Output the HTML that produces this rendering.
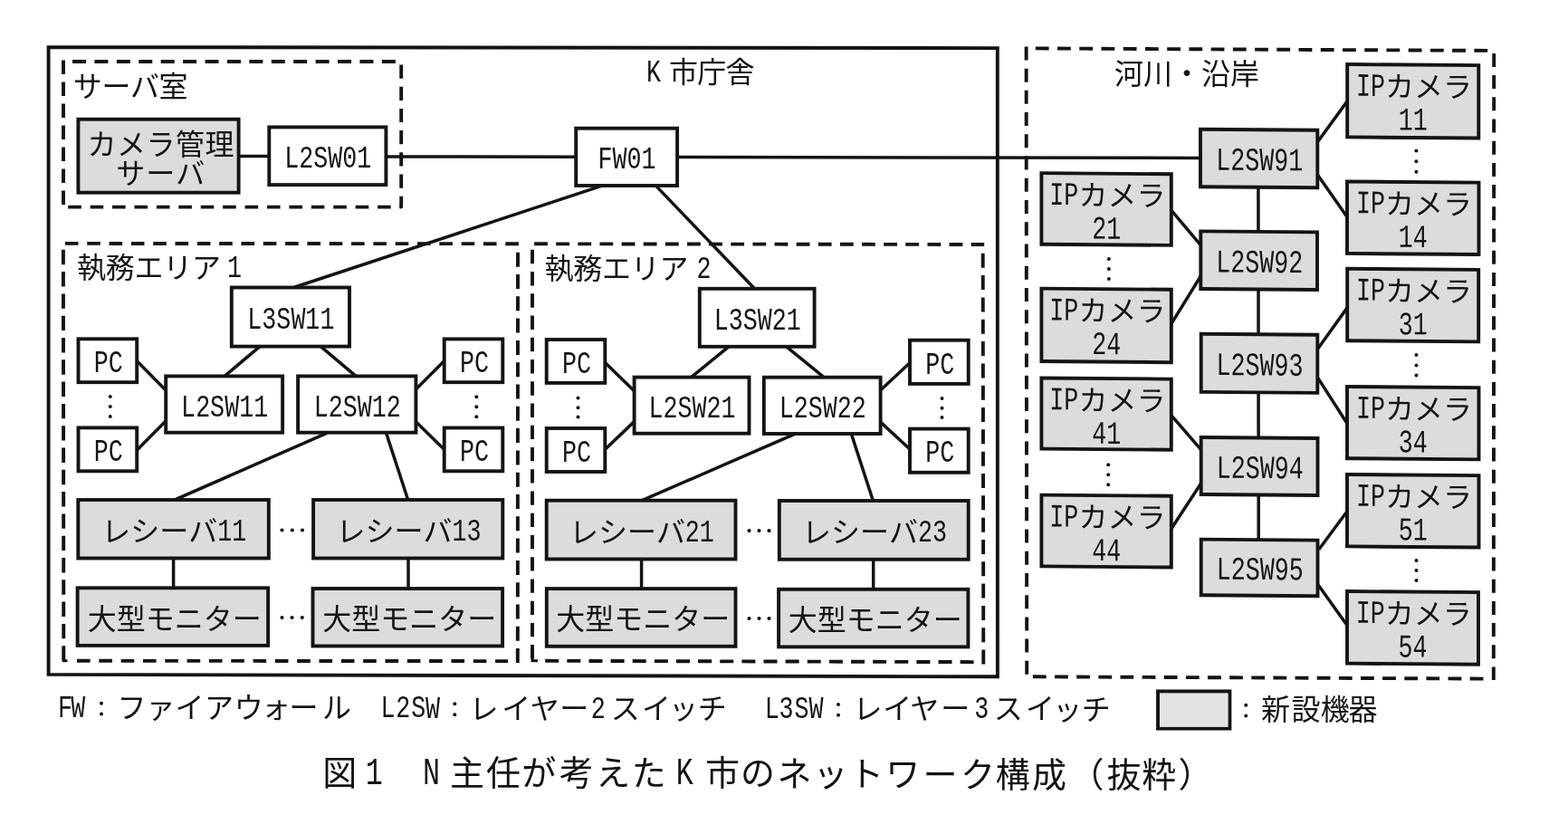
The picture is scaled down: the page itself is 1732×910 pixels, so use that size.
<!DOCTYPE html>
<html lang="ja">
<head>
<meta charset="utf-8">
<title>図1 N主任が考えたK市のネットワーク構成(抜粋)</title>
<style>
html,body{margin:0;padding:0;background:#fff;}
body{width:1732px;height:910px;overflow:hidden;font-family:"Liberation Mono","Liberation Sans",sans-serif;}
svg{display:block;filter:blur(0.55px);}
svg rect,svg line,svg polygon{stroke:#141414;}
svg line{stroke-linecap:butt;fill:none;}
svg text{font-family:"Liberation Mono","Liberation Sans",monospace;fill:#141414;white-space:pre;}
svg text.j{font-family:"Liberation Sans","Noto Sans CJK JP",sans-serif;}
svg .d{fill:#141414;stroke:none;}
</style>
</head>
<body>
<svg width="1732" height="910" viewBox="0 0 1732 910">
<rect x="0" y="0" width="1732" height="910" style="fill:#fff;stroke:none"/>
<polygon points="53.6,52.1 1101.8,53.1 1101.9,747.3 53.6,744.9" fill="none" stroke-width="3.9"/>
<line x1="80" y1="68" x2="443.3" y2="68" stroke-width="3.9" stroke-dasharray="15 9.42" stroke-dashoffset="0"/>
<line x1="75.2" y1="228.6" x2="443.3" y2="228.6" stroke-width="3.9" stroke-dasharray="14.6 9.82" stroke-dashoffset="0"/>
<line x1="70" y1="66.5" x2="70" y2="228" stroke-width="3.9" stroke-dasharray="15.6 8.4" stroke-dashoffset="0"/>
<line x1="443.2" y1="71.5" x2="443.2" y2="229.8" stroke-width="3.9" stroke-dasharray="15.2 9" stroke-dashoffset="0"/>
<line x1="71.9" y1="268.9" x2="573.3" y2="269.2" stroke-width="3.9" stroke-dasharray="14.6 9.72" stroke-dashoffset="0"/>
<line x1="69.9" y1="275.8" x2="70.3" y2="731" stroke-width="3.9" stroke-dasharray="16.4 7.9" stroke-dashoffset="0"/>
<line x1="572" y1="278.7" x2="571.8" y2="732.4" stroke-width="3.9" stroke-dasharray="16 8.3" stroke-dashoffset="0"/>
<line x1="85" y1="729.8" x2="561" y2="730.1" stroke-width="3.9" stroke-dasharray="14.6 9.72" stroke-dashoffset="0"/>
<polyline points="70.3,716 70.3,729.8 74.5,729.8" fill="none" stroke="#141414" stroke-width="3"/>
<line x1="590.1" y1="269.3" x2="1087.2" y2="270" stroke-width="3.9" stroke-dasharray="14.8 9.33" stroke-dashoffset="0"/>
<line x1="588" y1="275.8" x2="588" y2="731" stroke-width="3.9" stroke-dasharray="15.4 8.84" stroke-dashoffset="0"/>
<line x1="1085.7" y1="279.8" x2="1086.3" y2="733.7" stroke-width="3.9" stroke-dasharray="16 8.32" stroke-dashoffset="0"/>
<line x1="602.2" y1="729.8" x2="1075.6" y2="731.1" stroke-width="3.9" stroke-dasharray="15 9.13" stroke-dashoffset="0"/>
<polyline points="588,716 588,729.8 594,729.8" fill="none" stroke="#141414" stroke-width="3"/>
<line x1="1143.8" y1="53.4" x2="1643.4" y2="55.9" stroke-width="3.9" stroke-dasharray="14.8 9.43" stroke-dashoffset="0"/>
<line x1="1133.6" y1="51.4" x2="1134.2" y2="744.7" stroke-width="3.9" stroke-dasharray="15 9.23" stroke-dashoffset="0"/>
<line x1="1650.2" y1="58.9" x2="1649.8" y2="751" stroke-width="3.9" stroke-dasharray="15 9.2" stroke-dashoffset="0"/>
<line x1="1140.9" y1="747.3" x2="1638.8" y2="749.6" stroke-width="3.9" stroke-dasharray="14.8 9.34" stroke-dashoffset="0"/>
<line x1="263.6" y1="172.5" x2="296.7" y2="172.5" stroke-width="3.5"/>
<line x1="427" y1="173" x2="636" y2="173.2" stroke-width="3.5"/>
<line x1="748" y1="173.5" x2="1326" y2="174.4" stroke-width="3.5"/>
<line x1="663.45" y1="205.56" x2="325.15" y2="317.24" stroke-width="3.5"/>
<line x1="724.42" y1="205.14" x2="834.18" y2="319.46" stroke-width="3.5"/>
<line x1="288.79" y1="381.06" x2="247.51" y2="415.94" stroke-width="3.5"/>
<line x1="352.51" y1="381.06" x2="393.69" y2="415.94" stroke-width="3.5"/>
<line x1="150.09" y1="397.46" x2="184.61" y2="432.44" stroke-width="3.5"/>
<line x1="150.09" y1="498.33" x2="184.61" y2="463.47" stroke-width="3.5"/>
<line x1="457.58" y1="431.72" x2="491.82" y2="397.48" stroke-width="3.5"/>
<line x1="457.55" y1="464.1" x2="491.85" y2="497.6" stroke-width="3.5"/>
<line x1="360.85" y1="478.29" x2="192.15" y2="552.41" stroke-width="3.5"/>
<line x1="426.07" y1="476.65" x2="451.33" y2="554.05" stroke-width="3.5"/>
<line x1="191.6" y1="616.5" x2="191.6" y2="649.5" stroke-width="3.5"/>
<line x1="451" y1="616.5" x2="451" y2="650" stroke-width="3.5"/>
<line x1="805.82" y1="382.1" x2="762.88" y2="417.2" stroke-width="3.5"/>
<line x1="867.78" y1="382.1" x2="910.72" y2="417.2" stroke-width="3.5"/>
<line x1="667.15" y1="399.2" x2="702.05" y2="433.3" stroke-width="3.5"/>
<line x1="667.13" y1="497.57" x2="702.07" y2="464.13" stroke-width="3.5"/>
<line x1="971.21" y1="432.25" x2="1006.59" y2="399.25" stroke-width="3.5"/>
<line x1="971.2" y1="464.87" x2="1006.6" y2="497.53" stroke-width="3.5"/>
<line x1="877.85" y1="479.3" x2="707.45" y2="553.4" stroke-width="3.5"/>
<line x1="939.87" y1="477.65" x2="965.03" y2="555.05" stroke-width="3.5"/>
<line x1="708.6" y1="617.5" x2="708.6" y2="650.5" stroke-width="3.5"/>
<line x1="964.7" y1="617.8" x2="964.7" y2="651" stroke-width="3.5"/>
<line x1="1389.9" y1="206" x2="1390.2" y2="597" stroke-width="3.5"/>
<line x1="1453.73" y1="159.02" x2="1488.87" y2="110.88" stroke-width="3.5"/>
<line x1="1453.78" y1="190.74" x2="1488.82" y2="240.66" stroke-width="3.5"/>
<line x1="1292.66" y1="230.91" x2="1327.44" y2="272.09" stroke-width="3.5"/>
<line x1="1293.02" y1="358.85" x2="1327.08" y2="303.75" stroke-width="3.5"/>
<line x1="1454.35" y1="387.04" x2="1488.85" y2="338.86" stroke-width="3.5"/>
<line x1="1454.48" y1="415.38" x2="1488.72" y2="468.72" stroke-width="3.5"/>
<line x1="1292.64" y1="457.33" x2="1328.16" y2="498.47" stroke-width="3.5"/>
<line x1="1292.96" y1="585.31" x2="1327.84" y2="531.99" stroke-width="3.5"/>
<line x1="1456.9" y1="606.8" x2="1488.39" y2="564.29" stroke-width="3.5"/>
<line x1="1454.35" y1="643.56" x2="1488.85" y2="691.74" stroke-width="3.5"/>
<rect x="297.3" y="140.4" width="129.1" height="63.7" fill="#fff" stroke-width="3.9"/>
<rect x="636.2" y="141.7" width="111.9" height="63.3" fill="#fff" stroke-width="3.9"/>
<rect x="255.8" y="317.5" width="130.2" height="65.1" fill="#fff" stroke-width="3.9"/>
<rect x="183.2" y="415.4" width="128.9" height="62.3" fill="#fff" stroke-width="3.9"/>
<rect x="329.1" y="415.4" width="130.3" height="62.3" fill="#fff" stroke-width="3.9"/>
<rect x="772.8" y="318.8" width="126.8" height="64" fill="#fff" stroke-width="3.9"/>
<rect x="700.6" y="416.6" width="126.9" height="62.1" fill="#fff" stroke-width="3.9"/>
<rect x="843.8" y="416.7" width="128.8" height="62.3" fill="#fff" stroke-width="3.9"/>
<rect x="86.5" y="374.3" width="64.7" height="47.9" fill="#fff" stroke-width="3.9"/>
<rect x="86.5" y="472.4" width="64.7" height="47.9" fill="#fff" stroke-width="3.9"/>
<rect x="490.7" y="374.4" width="64.6" height="47.8" fill="#fff" stroke-width="3.9"/>
<rect x="490.7" y="472.5" width="64.6" height="47.8" fill="#fff" stroke-width="3.9"/>
<rect x="603.7" y="375" width="64.6" height="47.9" fill="#fff" stroke-width="3.9"/>
<rect x="603.7" y="473" width="64.6" height="48" fill="#fff" stroke-width="3.9"/>
<rect x="1005" y="375.7" width="64.7" height="48.2" fill="#fff" stroke-width="3.9"/>
<rect x="1005" y="473.6" width="64.7" height="48.2" fill="#fff" stroke-width="3.9"/>
<rect x="86.4" y="131.7" width="177.2" height="81" fill="#dcdcdc" stroke-width="3.9"/>
<rect x="86.3" y="552" width="210.5" height="64.5" fill="#dcdcdc" stroke-width="3.9"/>
<rect x="346.1" y="552" width="209.2" height="64.5" fill="#dcdcdc" stroke-width="3.9"/>
<rect x="85.6" y="649.3" width="210.5" height="63.6" fill="#dcdcdc" stroke-width="3.9"/>
<rect x="345.5" y="650" width="209.6" height="63.5" fill="#dcdcdc" stroke-width="3.9"/>
<rect x="603.7" y="552.7" width="208.8" height="64.8" fill="#dcdcdc" stroke-width="3.9"/>
<rect x="860.8" y="553" width="208.9" height="64.8" fill="#dcdcdc" stroke-width="3.9"/>
<rect x="603.8" y="650.1" width="208.7" height="63.7" fill="#dcdcdc" stroke-width="3.9"/>
<rect x="860.1" y="650.8" width="209.3" height="63.6" fill="#dcdcdc" stroke-width="3.9"/>
<rect x="1279" y="763.4" width="79.4" height="41.2" fill="#dcdcdc" stroke-width="3.9"/>
<rect x="1281" y="766" width="75.4" height="36.8" style="fill:#e3e3e3;stroke:none"/>
<text transform="matrix(0.7416 0 0 1 0 0)" x="423.85 445.43 467 488.57 510.15 531.72" y="185.35" font-size="35.95">L2SW01</text>
<text transform="matrix(0.7416 0 0 1 0 0)" x="890.79 912.36 933.93 955.51" y="186.45" font-size="35.95">FW01</text>
<text transform="matrix(0.7416 0 0 1 0 0)" x="368.64 390.21 411.79 433.36 454.93 476.51" y="363.15" font-size="35.95">L3SW11</text>
<text transform="matrix(0.7416 0 0 1 0 0)" x="269.87 291.45 313.02 334.59 356.17 377.74" y="459.65" font-size="35.95">L2SW11</text>
<text transform="matrix(0.7416 0 0 1 0 0)" x="467.54 489.11 510.69 532.26 553.83 575.41" y="459.65" font-size="35.95">L2SW12</text>
<text transform="matrix(0.7416 0 0 1 0 0)" x="1063.44 1085.01 1106.59 1128.16 1149.74 1171.31" y="363.9" font-size="35.95">L3SW21</text>
<text transform="matrix(0.7416 0 0 1 0 0)" x="966.16 987.73 1009.31 1030.88 1052.45 1074.03" y="460.75" font-size="35.95">L2SW21</text>
<text transform="matrix(0.7416 0 0 1 0 0)" x="1160.52 1182.1 1203.67 1225.24 1246.82 1268.39" y="460.95" font-size="35.95">L2SW22</text>
<text transform="matrix(0.7416 0 0 1 0 0)" x="140.03 161.6" y="411.05" font-size="35.95">PC</text>
<text transform="matrix(0.7416 0 0 1 0 0)" x="140.03 161.6" y="509.15" font-size="35.95">PC</text>
<text transform="matrix(0.7416 0 0 1 0 0)" x="684.96 706.53" y="411.1" font-size="35.95">PC</text>
<text transform="matrix(0.7416 0 0 1 0 0)" x="684.96 706.53" y="509.2" font-size="35.95">PC</text>
<text transform="matrix(0.7416 0 0 1 0 0)" x="837.32 858.9" y="411.75" font-size="35.95">PC</text>
<text transform="matrix(0.7416 0 0 1 0 0)" x="837.32 858.9" y="509.8" font-size="35.95">PC</text>
<text transform="matrix(0.7416 0 0 1 0 0)" x="1378.48 1400.06" y="412.6" font-size="35.95">PC</text>
<text transform="matrix(0.7416 0 0 1 0 0)" x="1378.48 1400.06" y="510.5" font-size="35.95">PC</text>
<g role="img" aria-label="カメラ管理"><title>カメラ管理</title><text class="j" x="96.5 129 161.5 194 226.5" y="171.36" font-size="32">カメラ管理</text></g>
<g role="img" aria-label="サーバ"><title>サーバ</title><text class="j" x="128.3 161.3 194.3" y="203.16" font-size="32">サーバ</text></g>
<g role="img" aria-label="レシーバ11"><title>レシーバ11</title><text class="j" x="112.35 144.35 176.35 208.35" y="598.11" font-size="32">レシーバ</text><text transform="matrix(0.7416 0 0 1 0 0)" x="324.08 345.65" y="597.15" font-size="35.95">11</text></g>
<g role="img" aria-label="レシーバ13"><title>レシーバ13</title><text class="j" x="371.5 403.5 435.5 467.5" y="598.11" font-size="32">レシーバ</text><text transform="matrix(0.7416 0 0 1 0 0)" x="673.5 695.07" y="597.15" font-size="35.95">13</text></g>
<g role="img" aria-label="レシーバ21"><title>レシーバ21</title><text class="j" x="628.9 660.9 692.9 724.9" y="598.96" font-size="32">レシーバ</text><text transform="matrix(0.7416 0 0 1 0 0)" x="1020.56 1042.14" y="598" font-size="35.95">21</text></g>
<g role="img" aria-label="レシーバ23"><title>レシーバ23</title><text class="j" x="886.05 918.05 950.05 982.05" y="599.26" font-size="32">レシーバ</text><text transform="matrix(0.7416 0 0 1 0 0)" x="1367.29 1388.86" y="598.3" font-size="35.95">23</text></g>
<g role="img" aria-label="大型モニター"><title>大型モニター</title><text class="j" x="96.85 128.85 160.85 192.85 224.85 256.85" y="694.56" font-size="32">大型モニター</text></g>
<g role="img" aria-label="大型モニター"><title>大型モニター</title><text class="j" x="356.3 388.3 420.3 452.3 484.3 516.3" y="695.21" font-size="32">大型モニター</text></g>
<g role="img" aria-label="大型モニター"><title>大型モニター</title><text class="j" x="614.15 646.15 678.15 710.15 742.15 774.15" y="695.41" font-size="32">大型モニター</text></g>
<g role="img" aria-label="大型モニター"><title>大型モニター</title><text class="j" x="870.75 902.75 934.75 966.75 998.75 1030.75" y="696.06" font-size="32">大型モニター</text></g>
<g transform="translate(1390.65 175) skewY(0.45) translate(-1390.65 -175)">
<rect x="1326" y="143.3" width="129.3" height="63.4" fill="#dcdcdc" stroke-width="3.9"/>
<text transform="matrix(0.7416 0 0 1 0 0)" x="1811.3 1832.88 1854.45 1876.02 1897.6 1919.17" y="188.1" font-size="35.95">L2SW91</text>
</g>
<g transform="translate(1390.65 287.7) skewY(0.45) translate(-1390.65 -287.7)">
<rect x="1326.3" y="255.9" width="128.7" height="63.6" fill="#dcdcdc" stroke-width="3.9"/>
<text transform="matrix(0.7416 0 0 1 0 0)" x="1811.3 1832.88 1854.45 1876.02 1897.6 1919.17" y="300.8" font-size="35.95">L2SW92</text>
</g>
<g transform="translate(1391 401.35) skewY(0.45) translate(-1391 -401.35)">
<rect x="1326.7" y="369.3" width="128.6" height="64.1" fill="#dcdcdc" stroke-width="3.9"/>
<text transform="matrix(0.7416 0 0 1 0 0)" x="1811.77 1833.35 1854.92 1876.49 1898.07 1919.64" y="414.45" font-size="35.95">L2SW93</text>
</g>
<g transform="translate(1391.1 515) skewY(0.45) translate(-1391.1 -515)">
<rect x="1326.7" y="483.5" width="128.8" height="63" fill="#dcdcdc" stroke-width="3.9"/>
<text transform="matrix(0.7416 0 0 1 0 0)" x="1811.91 1833.48 1855.06 1876.63 1898.2 1919.78" y="528.1" font-size="35.95">L2SW94</text>
</g>
<g transform="translate(1391.1 626.95) skewY(0.45) translate(-1391.1 -626.95)">
<rect x="1326.7" y="596.1" width="128.8" height="61.7" fill="#dcdcdc" stroke-width="3.9"/>
<text transform="matrix(0.7416 0 0 1 0 0)" x="1811.91 1833.48 1855.06 1876.63 1898.2 1919.78" y="640.05" font-size="35.95">L2SW95</text>
</g>
<g transform="translate(1560.75 111.8) skewY(0.45) translate(-1560.75 -111.8)">
<rect x="1488.2" y="71.6" width="145.1" height="80.4" fill="#dcdcdc" stroke-width="3.9"/>
<g role="img" aria-label="IPカメラ"><title>IPカメラ</title><text transform="matrix(0.7416 0 0 1 0 0)" x="2019.89 2041.46" y="106.3" font-size="35.95">IP</text><text class="j" x="1530.05 1562.05 1594.05" y="107.26" font-size="32">カメラ</text></g>
<text transform="matrix(0.7416 0 0 1 0 0)" x="2083.13 2104.7" y="143.6" font-size="35.95">11</text>
</g>
<g transform="translate(1560.75 240.75) skewY(0.45) translate(-1560.75 -240.75)">
<rect x="1488" y="201" width="145.5" height="79.5" fill="#dcdcdc" stroke-width="3.9"/>
<g role="img" aria-label="IPカメラ"><title>IPカメラ</title><text transform="matrix(0.7416 0 0 1 0 0)" x="2019.89 2041.46" y="235.7" font-size="35.95">IP</text><text class="j" x="1530.05 1562.05 1594.05" y="236.66" font-size="32">カメラ</text></g>
<text transform="matrix(0.7416 0 0 1 0 0)" x="2083.13 2104.7" y="273" font-size="35.95">14</text>
</g>
<g transform="translate(1560.7 337.05) skewY(0.45) translate(-1560.7 -337.05)">
<rect x="1488.2" y="297.3" width="145" height="79.5" fill="#dcdcdc" stroke-width="3.9"/>
<g role="img" aria-label="IPカメラ"><title>IPカメラ</title><text transform="matrix(0.7416 0 0 1 0 0)" x="2019.82 2041.4" y="332" font-size="35.95">IP</text><text class="j" x="1530 1562 1594" y="332.96" font-size="32">カメラ</text></g>
<text transform="matrix(0.7416 0 0 1 0 0)" x="2083.06 2104.63" y="369.3" font-size="35.95">31</text>
</g>
<g transform="translate(1560.75 467.15) skewY(0.45) translate(-1560.75 -467.15)">
<rect x="1488" y="427.5" width="145.5" height="79.3" fill="#dcdcdc" stroke-width="3.9"/>
<g role="img" aria-label="IPカメラ"><title>IPカメラ</title><text transform="matrix(0.7416 0 0 1 0 0)" x="2019.89 2041.46" y="462.2" font-size="35.95">IP</text><text class="j" x="1530.05 1562.05 1594.05" y="463.16" font-size="32">カメラ</text></g>
<text transform="matrix(0.7416 0 0 1 0 0)" x="2083.13 2104.7" y="499.5" font-size="35.95">34</text>
</g>
<g transform="translate(1560.75 564.25) skewY(0.45) translate(-1560.75 -564.25)">
<rect x="1488" y="524.5" width="145.5" height="79.5" fill="#dcdcdc" stroke-width="3.9"/>
<g role="img" aria-label="IPカメラ"><title>IPカメラ</title><text transform="matrix(0.7416 0 0 1 0 0)" x="2019.89 2041.46" y="559.2" font-size="35.95">IP</text><text class="j" x="1530.05 1562.05 1594.05" y="560.16" font-size="32">カメラ</text></g>
<text transform="matrix(0.7416 0 0 1 0 0)" x="2083.13 2104.7" y="596.5" font-size="35.95">51</text>
</g>
<g transform="translate(1560.5 693.4) skewY(0.45) translate(-1560.5 -693.4)">
<rect x="1488" y="653.6" width="145" height="79.6" fill="#dcdcdc" stroke-width="3.9"/>
<g role="img" aria-label="IPカメラ"><title>IPカメラ</title><text transform="matrix(0.7416 0 0 1 0 0)" x="2019.55 2041.13" y="688.3" font-size="35.95">IP</text><text class="j" x="1529.8 1561.8 1593.8" y="689.26" font-size="32">カメラ</text></g>
<text transform="matrix(0.7416 0 0 1 0 0)" x="2082.79 2104.37" y="725.6" font-size="35.95">54</text>
</g>
<g transform="translate(1222.1 231) skewY(0.45) translate(-1222.1 -231)">
<rect x="1150.4" y="191.7" width="143.4" height="78.6" fill="#dcdcdc" stroke-width="3.9"/>
<g role="img" aria-label="IPカメラ"><title>IPカメラ</title><text transform="matrix(0.7416 0 0 1 0 0)" x="1563.27 1584.85" y="226.4" font-size="35.95">IP</text><text class="j" x="1191.4 1223.4 1255.4" y="227.36" font-size="32">カメラ</text></g>
<text transform="matrix(0.7416 0 0 1 0 0)" x="1626.51 1648.08" y="263.7" font-size="35.95">21</text>
</g>
<g transform="translate(1222.1 359.4) skewY(0.45) translate(-1222.1 -359.4)">
<rect x="1150.4" y="319.2" width="143.4" height="80.4" fill="#dcdcdc" stroke-width="3.9"/>
<g role="img" aria-label="IPカメラ"><title>IPカメラ</title><text transform="matrix(0.7416 0 0 1 0 0)" x="1563.27 1584.85" y="353.9" font-size="35.95">IP</text><text class="j" x="1191.4 1223.4 1255.4" y="354.86" font-size="32">カメラ</text></g>
<text transform="matrix(0.7416 0 0 1 0 0)" x="1626.51 1648.08" y="391.2" font-size="35.95">24</text>
</g>
<g transform="translate(1222.1 457.1) skewY(0.45) translate(-1222.1 -457.1)">
<rect x="1150.4" y="418" width="143.4" height="78.2" fill="#dcdcdc" stroke-width="3.9"/>
<g role="img" aria-label="IPカメラ"><title>IPカメラ</title><text transform="matrix(0.7416 0 0 1 0 0)" x="1563.27 1584.85" y="452.7" font-size="35.95">IP</text><text class="j" x="1191.4 1223.4 1255.4" y="453.66" font-size="32">カメラ</text></g>
<text transform="matrix(0.7416 0 0 1 0 0)" x="1626.51 1648.08" y="490" font-size="35.95">41</text>
</g>
<g transform="translate(1222.1 586.6) skewY(0.45) translate(-1222.1 -586.6)">
<rect x="1150.4" y="547.2" width="143.4" height="78.8" fill="#dcdcdc" stroke-width="3.9"/>
<g role="img" aria-label="IPカメラ"><title>IPカメラ</title><text transform="matrix(0.7416 0 0 1 0 0)" x="1563.27 1584.85" y="581.9" font-size="35.95">IP</text><text class="j" x="1191.4 1223.4 1255.4" y="582.86" font-size="32">カメラ</text></g>
<text transform="matrix(0.7416 0 0 1 0 0)" x="1626.51 1648.08" y="619.2" font-size="35.95">44</text>
</g>
<g role="img" aria-label="サーバ室"><title>サーバ室</title><text class="j" x="80.8 112.4 144 175.6" y="107.16" font-size="32">サーバ室</text></g>
<text transform="matrix(0.7416 0 0 1 0 0)" x="962.72" y="90.4" font-size="35.95">K</text>
<g role="img" aria-label="市庁舎"><title>市庁舎</title><text class="j" x="738.95 770.25 801.55" y="91.36" font-size="32">市庁舎</text></g>
<g role="img" aria-label="執務エリア"><title>執務エリア</title><text class="j" x="84.9 116.7 148.5 180.3 212.1" y="307.46" font-size="32">執務エリア</text></g>
<text transform="matrix(0.7416 0 0 1 0 0)" x="338.44" y="306.5" font-size="35.95">1</text>
<g role="img" aria-label="執務エリア"><title>執務エリア</title><text class="j" x="601.4 633.2 665 696.8 728.6" y="308.26" font-size="32">執務エリア</text></g>
<text transform="matrix(0.7416 0 0 1 0 0)" x="1037.55" y="307.3" font-size="35.95">2</text>
<g role="img" aria-label="河川・沿岸"><title>河川・沿岸</title><text class="j" x="1231 1263 1295 1327 1359" y="92.96" font-size="32">河川・沿岸</text></g>
<circle cx="121.8" cy="438" r="2" class="d"/>
<circle cx="121.8" cy="449" r="2" class="d"/>
<circle cx="121.8" cy="460" r="2" class="d"/>
<circle cx="526.3" cy="438.2" r="2" class="d"/>
<circle cx="526.3" cy="449.2" r="2" class="d"/>
<circle cx="526.3" cy="460.2" r="2" class="d"/>
<circle cx="638.5" cy="439.5" r="2" class="d"/>
<circle cx="638.5" cy="450.2" r="2" class="d"/>
<circle cx="638.5" cy="460.4" r="2" class="d"/>
<circle cx="1040.5" cy="440" r="2" class="d"/>
<circle cx="1040.5" cy="450.8" r="2" class="d"/>
<circle cx="1040.5" cy="461" r="2" class="d"/>
<circle cx="311.5" cy="585.5" r="2.1" class="d"/>
<circle cx="322.8" cy="585.5" r="2.1" class="d"/>
<circle cx="334" cy="585.5" r="2.1" class="d"/>
<circle cx="311.5" cy="682" r="2.1" class="d"/>
<circle cx="322.6" cy="682" r="2.1" class="d"/>
<circle cx="333.8" cy="682" r="2.1" class="d"/>
<circle cx="827.5" cy="586.1" r="2.1" class="d"/>
<circle cx="838.5" cy="586.1" r="2.1" class="d"/>
<circle cx="849.5" cy="586.1" r="2.1" class="d"/>
<circle cx="827.5" cy="683" r="2.1" class="d"/>
<circle cx="838.5" cy="683" r="2.1" class="d"/>
<circle cx="849.5" cy="683" r="2.1" class="d"/>
<circle cx="1564.4" cy="166.6" r="2" class="d"/>
<circle cx="1564.4" cy="178.2" r="2" class="d"/>
<circle cx="1564.4" cy="189.8" r="2" class="d"/>
<circle cx="1564.5" cy="392" r="2" class="d"/>
<circle cx="1564.5" cy="403.4" r="2" class="d"/>
<circle cx="1564.5" cy="414.6" r="2" class="d"/>
<circle cx="1564.5" cy="619" r="2" class="d"/>
<circle cx="1564.5" cy="630" r="2" class="d"/>
<circle cx="1564.5" cy="641" r="2" class="d"/>
<circle cx="1224.9" cy="286" r="2" class="d"/>
<circle cx="1224.9" cy="297.1" r="2" class="d"/>
<circle cx="1224.9" cy="308" r="2" class="d"/>
<circle cx="1224.2" cy="513.3" r="2" class="d"/>
<circle cx="1224.2" cy="524.3" r="2" class="d"/>
<circle cx="1224.2" cy="535.3" r="2" class="d"/>
<g role="img" aria-label="FW：ファイアウォール L2SW：レイヤー2スイッチ L3SW：レイヤー3スイッチ ：新設機器"><title>FW：ファイアウォール L2SW：レイヤー2スイッチ L3SW：レイヤー3スイッチ ：新設機器</title><text transform="matrix(0.7416 0 0 1 0 0)" x="86.19" y="791.91" font-size="35.95">F</text><text transform="matrix(0.7416 0 0 1 0 0)" x="105.45" y="791.93" font-size="35.95">W</text><circle cx="112" cy="776.77" r="2" class="d"/><circle cx="112" cy="788.57" r="2" class="d"/><text class="j" x="129.58 161.42 193.61 225.96 258.77 288.93 319.46 356.07" y="792.98 793.03 793.07 793.12 793.17 793.22 793.27 793.32" font-size="32">ファイアウォール</text><text transform="matrix(0.7416 0 0 1 0 0)" x="567.04" y="792.45" font-size="35.95">L</text><text transform="matrix(0.7416 0 0 1 0 0)" x="589.51" y="792.47" font-size="35.95">2</text><text transform="matrix(0.7416 0 0 1 0 0)" x="612.48" y="792.5" font-size="35.95">S</text><text transform="matrix(0.7416 0 0 1 0 0)" x="633.73" y="792.52" font-size="35.95">W</text><circle cx="502.3" cy="777.36" r="2" class="d"/><circle cx="502.3" cy="789.16" r="2" class="d"/><text class="j" x="518.56 554.26 585.76 618.21" y="793.57 793.62 793.67 793.72" font-size="32">レイヤー</text><text transform="matrix(0.7416 0 0 1 0 0)" x="880.34" y="792.8" font-size="35.95">2</text><text class="j" x="674.82 708.96 739.02 770.81" y="793.8 793.85 793.9 793.95" font-size="32">スイッチ</text><text transform="matrix(0.7416 0 0 1 0 0)" x="1139.01" y="793.09" font-size="35.95">L</text><text transform="matrix(0.7416 0 0 1 0 0)" x="1160.27" y="793.11" font-size="35.95">3</text><text transform="matrix(0.7416 0 0 1 0 0)" x="1183.43" y="793.14" font-size="35.95">S</text><text transform="matrix(0.7416 0 0 1 0 0)" x="1204.96" y="793.17" font-size="35.95">W</text><circle cx="926" cy="778" r="2" class="d"/><circle cx="926" cy="789.8" r="2" class="d"/><text class="j" x="942.46 975.21 1005.21 1039.21" y="794.21 794.25 794.3 794.35" font-size="32">レイヤー</text><text transform="matrix(0.7416 0 0 1 0 0)" x="1451.11" y="793.44" font-size="35.95">3</text><text class="j" x="1097.82 1132.96 1163.17 1194.71" y="794.44 794.49 794.54 794.59" font-size="32">スイッチ</text><circle cx="1376.2" cy="778.68" r="2" class="d"/><circle cx="1376.2" cy="790.48" r="2" class="d"/><text class="j" x="1393.03 1426.43 1458.75 1489.45" y="794.89 794.94 794.99 795.03" font-size="32">新設機器</text></g>
<g role="img" aria-label="図1 N主任が考えたK市のネットワーク構成（抜粋）"><title>図1 N主任が考えたK市のネットワーク構成（抜粋）</title><text class="j" x="356.21" y="867.34" font-size="38">図</text><text transform="matrix(0.7416 0 0 1 0 0)" x="544.49" y="866.2" font-size="42.69">1</text><text transform="matrix(0.7416 0 0 1 0 0)" x="629.69" y="866.2" font-size="42.69">N</text><text class="j" x="497.01 536.88 576.33 617.82 658.14 697.78" y="867.34" font-size="38">主任が考えた</text><text transform="matrix(0.7416 0 0 1 0 0)" x="1007.03" y="866.2" font-size="42.69">K</text><text class="j" x="779 817.94" y="867.34" font-size="38">市の</text><text class="j" x="858.45 898.45 937.93 978.36 1019.41 1060.92" y="867.53 867.79 868.08 868.34 868.62 868.89" font-size="38">ネットワーク</text><text class="j" x="1099.83 1140.05 1181.47 1222.41 1261.32 1301.43" y="869.04" font-size="38">構成（抜粋）</text></g>
</svg>
</body>
</html>
